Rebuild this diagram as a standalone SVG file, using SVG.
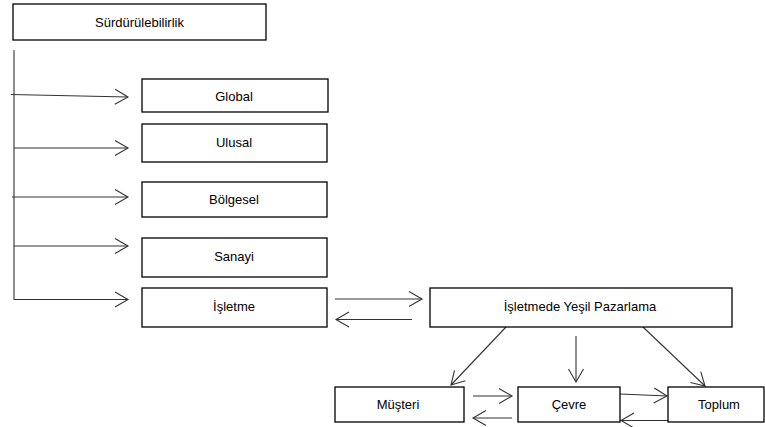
<svg xmlns="http://www.w3.org/2000/svg" width="765" height="427" viewBox="0 0 765 427">
<style>
.box{fill:#fff;stroke:#000;stroke-width:1.3}
.lbl{font-family:"Liberation Sans",Arial,sans-serif;font-size:13px;fill:#000;text-anchor:middle;dominant-baseline:central}
.ln{fill:none;stroke:#333;stroke-width:1.1}
</style>
<defs>
<marker id="ah" markerUnits="userSpaceOnUse" markerWidth="16" markerHeight="18" refX="13" refY="8" orient="auto" overflow="visible">
<path d="M0,0.5 L13,8 L0,15.5" fill="none" stroke="#333" stroke-width="1.1"/>
</marker>
</defs>
<rect width="765" height="427" fill="#fff"/>
<g id="connectors">
<polyline class="ln" points="14,50 14,300"/>
<line class="ln" x1="11" y1="94.5" x2="128" y2="97" marker-end="url(#ah)"/>
<line class="ln" x1="14" y1="148" x2="128" y2="148" marker-end="url(#ah)"/>
<line class="ln" x1="12" y1="197" x2="128" y2="197" marker-end="url(#ah)"/>
<line class="ln" x1="14" y1="246" x2="128" y2="246" marker-end="url(#ah)"/>
<line class="ln" x1="14" y1="299.5" x2="128" y2="299.5" marker-end="url(#ah)"/>
<line class="ln" x1="335" y1="299" x2="422" y2="299" marker-end="url(#ah)"/>
<line class="ln" x1="412" y1="319.5" x2="336" y2="319.5" marker-end="url(#ah)"/>
<line class="ln" x1="506" y1="327" x2="451" y2="385" marker-end="url(#ah)"/>
<line class="ln" x1="576" y1="336" x2="576" y2="382" marker-end="url(#ah)"/>
<line class="ln" x1="643" y1="327" x2="705" y2="386" marker-end="url(#ah)"/>
<line class="ln" x1="473" y1="396" x2="512" y2="396" marker-end="url(#ah)"/>
<line class="ln" x1="512" y1="418" x2="473" y2="418" marker-end="url(#ah)"/>
<line class="ln" x1="620" y1="394" x2="667" y2="396" marker-end="url(#ah)"/>
<line class="ln" x1="668" y1="420.5" x2="621" y2="420.5" marker-end="url(#ah)"/>
</g>
<g id="surdurulebilirlik"><rect class="box" x="13" y="4" width="253" height="36"/><text class="lbl" x="139.5" y="22.5">Sürdürülebilirlik</text></g>
<g id="global"><rect class="box" x="142" y="79" width="186" height="33"/><text class="lbl" x="234" y="96">Global</text></g>
<g id="ulusal"><rect class="box" x="142" y="124" width="185" height="38"/><text class="lbl" x="234" y="142">Ulusal</text></g>
<g id="bolgesel"><rect class="box" x="142" y="182" width="185" height="35"/><text class="lbl" x="234" y="199">Bölgesel</text></g>
<g id="sanayi"><rect class="box" x="142" y="238" width="185" height="39"/><text class="lbl" x="234" y="256">Sanayi</text></g>
<g id="isletme"><rect class="box" x="142" y="288" width="185" height="39"/><text class="lbl" x="234" y="306">İşletme</text></g>
<g id="isletmede-yesil-pazarlama"><rect class="box" x="430" y="288" width="302" height="39"/><text class="lbl" x="580" y="306">İşletmede Yeşil Pazarlama</text></g>
<g id="musteri"><rect class="box" x="335" y="387" width="129" height="35"/><text class="lbl" x="398" y="404">Müşteri</text></g>
<g id="cevre"><rect class="box" x="518" y="387" width="102" height="35"/><text class="lbl" x="569" y="404">Çevre</text></g>
<g id="toplum"><rect class="box" x="668" y="387" width="96" height="35"/><text class="lbl" x="719" y="404">Toplum</text></g>
</svg>
